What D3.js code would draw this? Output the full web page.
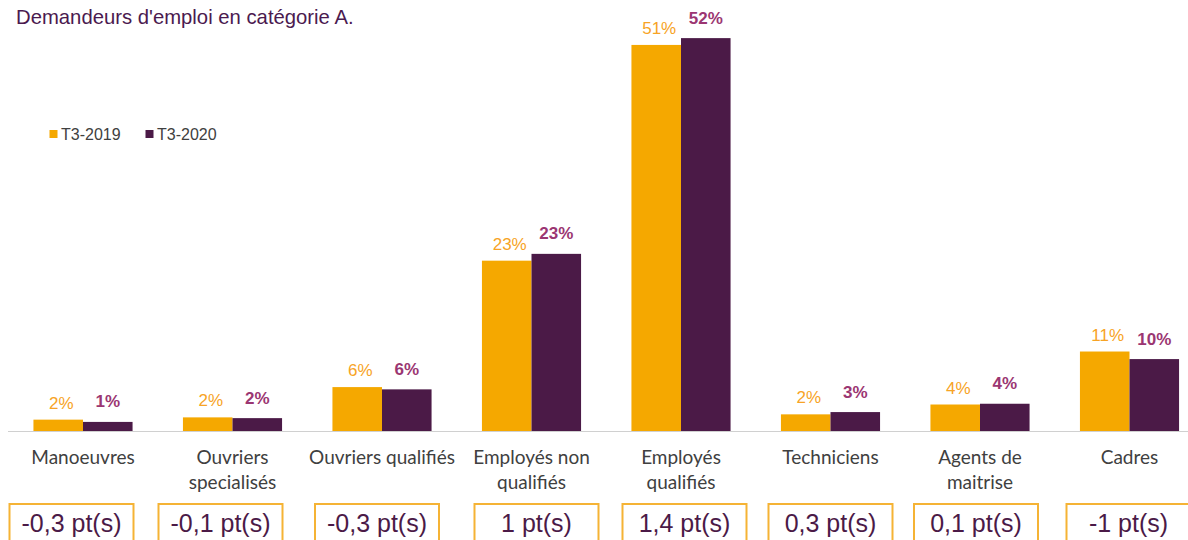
<!DOCTYPE html>
<html><head><meta charset="utf-8">
<script src="https://cdn.jsdelivr.net/npm/d3@7/dist/d3.min.js"></script>
<style>
html,body{margin:0;padding:0;background:#fff;overflow:hidden}
svg{display:block}
</style></head>
<body>
<svg id="c" width="1188" height="540"></svg>
<script>
const title = "Demandeurs d'emploi en catégorie A.";
const categories = ["Manoeuvres", "Ouvriers\nspecialisés", "Ouvriers qualifiés", "Employés non\nqualifiés", "Employés\nqualifiés", "Techniciens", "Agents de\nmaitrise", "Cadres"];
const seriesNames = ["T3-2019", "T3-2020"];
const values2019 = [1.5, 1.8, 5.8, 22.5, 51.0, 2.2, 3.5, 10.5];
const values2020 = [1.2, 1.7, 5.5, 23.4, 51.9, 2.5, 3.6, 9.5];
const deltas = [-0.3, -0.1, -0.3, 1, 1.4, 0.3, 0.1, -1];

const ORANGE = "#F5A800", PURPLE = "#4B1A47";
const svg = d3.select("#c");

const x = d3.scaleBand().domain(categories).range([8.25, 1204.25]).paddingInner(0.337).paddingOuter(0.1685);
const xs = d3.scaleBand().domain(seriesNames).range([0, x.bandwidth()]);
const y = d3.scaleLinear().domain([0, 50]).range([431, 431 - 378.5]);

// title
svg.append("text").attr("x", 16).attr("y", 24).attr("fill", "#4B1A4F")
  .style("font-family", "Arial, 'Liberation Sans', sans-serif").style("font-size", "20.3px").text(title);

// legend
const legX = [49.5, 145.5];
seriesNames.forEach((s, i) => {
  svg.append("rect").attr("x", legX[i]).attr("y", 130).attr("width", 8).attr("height", 8).attr("fill", i ? PURPLE : ORANGE);
  svg.append("text").attr("x", legX[i] + 11.5).attr("y", 139.5).attr("fill", "#404040")
    .style("font-family", "Arial, 'Liberation Sans', sans-serif").style("font-size", "16px").text(s);
});

// axis line
svg.append("line").attr("x1", 8).attr("x2", 1188).attr("y1", y(0) + 0.5).attr("y2", y(0) + 0.5)
  .attr("stroke", "#d0d0d0").attr("stroke-width", 1.2);

const rows = categories.map((c, i) => ({c, i, v: [values2019[i], values2020[i]], d: deltas[i]}));
const g = svg.append("g").selectAll("g").data(rows).join("g").attr("transform", d => `translate(${x(d.c)},0)`);

g.selectAll("rect").data(d => d.v.map((v, i) => ({v, s: seriesNames[i], i}))).join("rect")
  .attr("x", d => xs(d.s)).attr("width", xs.bandwidth())
  .attr("y", d => y(d.v)).attr("height", d => y(0) - y(d.v))
  .attr("fill", d => d.i ? PURPLE : ORANGE);

g.selectAll("text.val").data(d => d.v.map((v, i) => ({v, s: seriesNames[i], i}))).join("text")
  .attr("class", "val")
  .attr("x", d => xs(d.s) + xs.bandwidth() / 2 + (d.i ? 0 : 3))
  .attr("y", d => y(d.v) - (d.i ? 14.5 : 11))
  .attr("text-anchor", "middle")
  .attr("fill", d => d.i ? "#9B3672" : "#F7A325")
  .style("font-family", "Arial, 'Liberation Sans', sans-serif").style("font-size", "17px")
  .style("font-weight", d => d.i ? "bold" : "normal")
  .text(d => Math.round(d.v) + "%");

// category labels
g.each(function(d) {
  const lines = d.c.split("\n");
  const t = d3.select(this).append("text").attr("text-anchor", "middle").attr("fill", "#404040")
    .style("font-family", "Lato, 'Open Sans', sans-serif").style("font-size", "19px");
  lines.forEach((l, k) => t.append("tspan").attr("x", x.bandwidth() / 2).attr("y", 464 + k * 25).text(l));
});

// delta boxes (hand-placed text boxes in the original: small nudges from band centre)
const boxNudge = [-11.5, -12, -5, 5, 3.5, 0, -4, -1];
const bw = 124;
const bx = d => x.bandwidth() / 2 + boxNudge[d.i];
g.append("rect").attr("x", d => bx(d) - bw / 2).attr("y", 504).attr("width", bw).attr("height", 50)
  .attr("fill", "#fff").attr("stroke", "#F5B335").attr("stroke-width", 2);
g.append("text").attr("x", bx).attr("y", 531.5).attr("text-anchor", "middle")
  .attr("fill", "#4B1A47").style("font-family", "Arial, 'Liberation Sans', sans-serif").style("font-size", "25px")
  .text(d => String(d.d).replace(".", ",") + " pt(s)");
</script>
</body></html>
